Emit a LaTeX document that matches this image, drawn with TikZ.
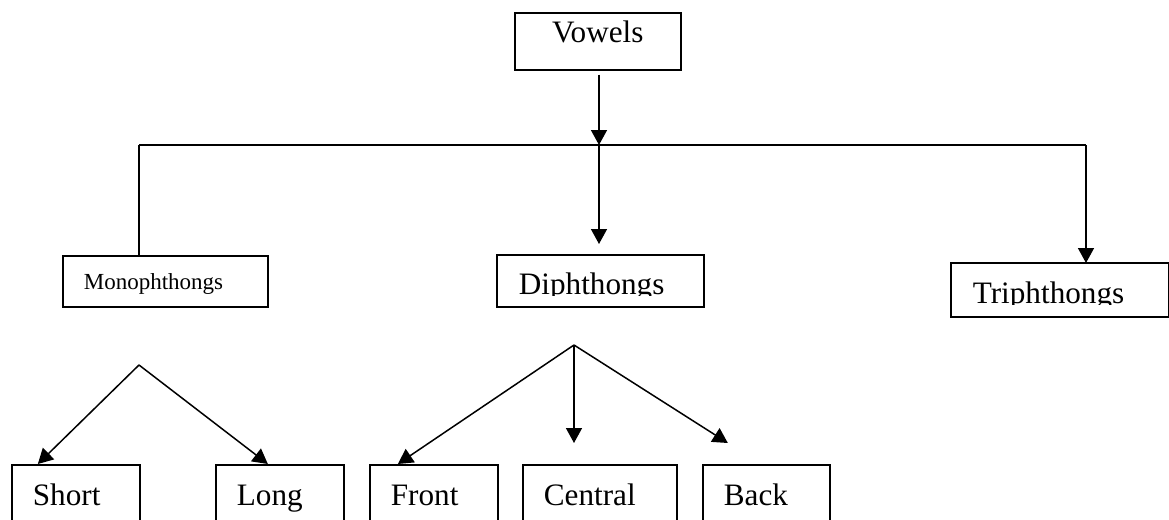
\documentclass[tikz,border=0pt]{standalone}
\usepackage{fontspec}
\setmainfont{Liberation Serif}
\usetikzlibrary{arrows.meta, positioning}

\begin{document}
\begin{tikzpicture}[x=0.5pt, y=-0.5pt]
    \tikzstyle{box} = [rectangle, draw, line width=0.85pt, anchor=north west,
                       inner xsep=10.5pt, inner ysep=0pt, align=left,
                       font=\fontsize{15.6pt}{18pt}\selectfont]
    \tikzstyle{link} = [line width=0.75pt]
    \tikzstyle{arr} = [-{Triangle[length=7.5pt, width=8pt]}, line width=0.75pt]

    \useasboundingbox (0,0) rectangle (1169,520);

    % top and middle row
    \node[box, align=center, text width=62pt, text height=15pt, text depth=13.5pt] (vow) at (514,12) {Vowels};
    \node[box, text width=81.5pt, text height=17pt, text depth=8.5pt,
          font=\fontsize{11.5pt}{14pt}\selectfont] (mono) at (62,255) {Monophthongs};
    \begin{scope}
      \clip (490,250) rectangle (710,295);
      \node[box, draw=none, text width=81.5pt, text height=19.5pt, text depth=5.5pt] (diph) at (497,255) {Diphthongs};
    \end{scope}
    \draw[line width=0.85pt] (diph.north west) rectangle (diph.south east);
    \begin{scope}
      \clip (945,258) rectangle (1169,304);
      \node[box, draw=none, text width=87pt, text height=20pt, text depth=6pt] (trip) at (951,263) {Triphthongs};
    \end{scope}
    \draw[line width=0.85pt] (trip.north west) rectangle (trip.south east);

    % bottom row
    \node[box, text width=43pt, text height=20.5pt, text depth=17.5pt] (short) at (11,464) {Short};
    \node[box, text width=43pt, text height=20.5pt, text depth=17.5pt] (long) at (215,464) {Long};
    \node[box, text width=43pt, text height=20.5pt, text depth=17.5pt] (front) at (369,464) {Front};
    \node[box, text width=56pt, text height=20.5pt, text depth=17.5pt] (central) at (522,464) {Central};
    \node[box, text width=42.5pt, text height=20.5pt, text depth=17.5pt] (back) at (702,464) {Back};

    % connectors
    \coordinate (hub) at (599,145);
    \coordinate (hl) at (139,145);
    \coordinate (hr) at (1086,145);
    \draw[arr, shorten <=2pt] (vow.south -| hub) -- (hub);
    \draw[link] (hl) -- (hr);
    \draw[link] (hl) -- (hl |- mono.north);
    \draw[arr, shorten >=5.5pt] (hub) -- (hub |- diph.north);
    \draw[arr] (hr) -- (hr |- trip.north);

    \coordinate (mtop) at (139,365);
    \draw[arr] (mtop) -- ([xshift=-19pt]short.north);
    \draw[arr] (mtop) -- ([xshift=-6pt]long.north);

    \coordinate (dtop) at (574,345);
    \draw[arr] (dtop) -- ([xshift=-18pt]front.north);
    \draw[arr, shorten >=10.5pt] (dtop) -- (dtop |- central.north);
    \draw[arr] (dtop) -- ([xshift=-19.25pt, yshift=10.5pt]back.north);
\end{tikzpicture}
\end{document}
